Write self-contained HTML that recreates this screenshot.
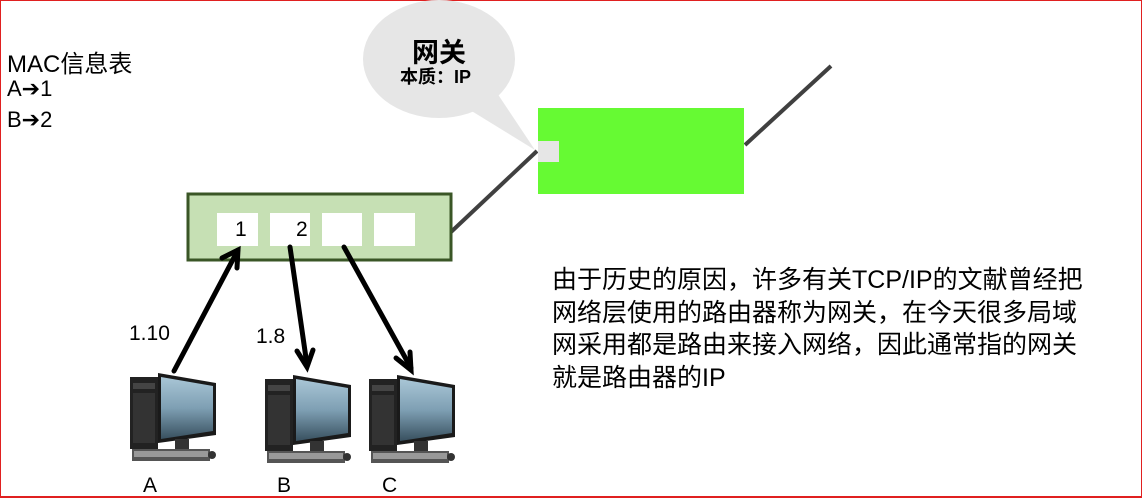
<!DOCTYPE html>
<html><head><meta charset="utf-8"><style>
body{margin:0;width:1142px;height:498px;overflow:hidden;background:#fff;font-family:"Liberation Sans","Noto Sans CJK SC",sans-serif;}
.frame{position:absolute;left:0;top:0;width:1140px;height:495px;border:1px solid #e02020;border-bottom-width:2px;}
.t{position:absolute;color:#000;white-space:nowrap;}
</style></head><body>
<div class="frame"></div>
<svg width="1142" height="498" style="position:absolute;left:0;top:0">
<defs>
<linearGradient id="scr" x1="0" y1="0" x2="0" y2="1"><stop offset="0" stop-color="#a9c6d6"/><stop offset="0.5" stop-color="#7e9fb3"/><stop offset="1" stop-color="#38505f"/></linearGradient>
<g id="pc">
<rect x="0" y="4" width="28" height="72" fill="#222"/>
<rect x="3" y="10" width="22" height="6" fill="#444"/>
<rect x="3" y="20" width="22" height="50" fill="#333"/>
<polygon points="28,0 86,10 86,62 28,70" fill="#1a1a1a"/>
<polygon points="31,4 83,13 83,58 31,66" fill="url(#scr)"/>
<rect x="45" y="66" width="14" height="10" fill="#333"/>
<rect x="2" y="76" width="78" height="12" fill="#555"/>
<rect x="4" y="78" width="74" height="6" fill="#999"/>
<circle cx="82" cy="82" r="4" fill="#333"/>
</g>
</defs>
<ellipse cx="439" cy="59" rx="76" ry="59" fill="#e6e6e6"/>
<polygon points="495,90 535,150 470,110" fill="#e6e6e6"/>
<line x1="451" y1="232" x2="537" y2="151" stroke="#404040" stroke-width="4"/>
<line x1="745" y1="145" x2="831" y2="66" stroke="#404040" stroke-width="4"/>
<rect x="538" y="108" width="206" height="86" fill="#66fa33"/>
<rect x="538" y="141" width="21" height="21" fill="#e6e6e6"/>
<rect x="188" y="194" width="263" height="66" fill="#c6e0b4" stroke="#3a5626" stroke-width="3"/>
<rect x="217" y="213" width="41" height="33" fill="#fff"/>
<rect x="270" y="213" width="40" height="33" fill="#fff"/>
<rect x="322" y="213" width="40" height="33" fill="#fff"/>
<rect x="374" y="213" width="41" height="33" fill="#fff"/>
<use href="#pc" x="130" y="373"/>
<use href="#pc" x="265" y="375"/>
<use href="#pc" x="369" y="375"/>
<g stroke="#000" stroke-width="5" fill="none" stroke-linecap="round">
<line x1="174" y1="371" x2="238" y2="250"/>
<polyline points="222,258 238,250 237,268"/>
<line x1="290" y1="247" x2="307" y2="365"/>
<polyline points="297,351 307,367 313,350"/>
<line x1="344" y1="247" x2="411" y2="368"/>
<polyline points="396,358 411,370 410,352"/>
</g>
</svg>
<div class="t" style="left:7px;top:44px;font-size:24px;">MAC信息表</div>
<div class="t" style="left:7px;top:76px;font-size:22px;">A➔1</div>
<div class="t" style="left:7px;top:107px;font-size:22px;">B➔2</div>
<div class="t" style="left:412px;top:31px;font-size:27px;font-weight:bold;">网关</div>
<div class="t" style="left:400px;top:63px;font-size:18px;font-weight:bold;">本质：IP</div>
<div class="t" style="left:235px;top:218px;font-size:21px;">1</div>
<div class="t" style="left:296px;top:218px;font-size:21px;">2</div>
<div class="t" style="left:129px;top:322px;font-size:21px;">1.10</div>
<div class="t" style="left:256px;top:325px;font-size:21px;">1.8</div>
<div class="t" style="left:143px;top:474px;font-size:21px;">A</div>
<div class="t" style="left:277px;top:474px;font-size:21px;">B</div>
<div class="t" style="left:382px;top:474px;font-size:21px;">C</div>
<div class="t" style="left:552px;top:264px;font-size:25px;line-height:32.5px;">由于历史的原因，许多有关TCP/IP的文献曾经把<br>网络层使用的路由器称为网关，在今天很多局域<br>网采用都是路由来接入网络，因此通常指的网关<br>就是路由器的IP</div>
</body></html>
